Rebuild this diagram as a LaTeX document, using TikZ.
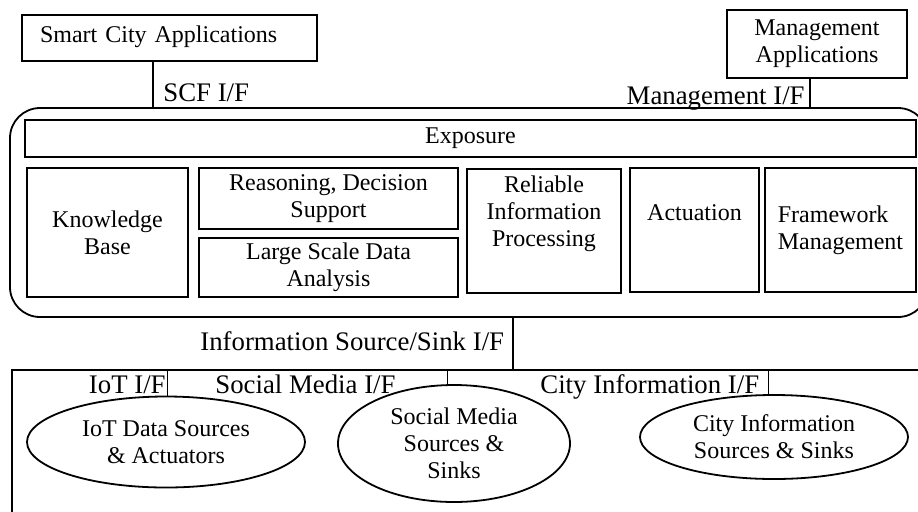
\documentclass[tikz,border=0pt]{standalone}
\usepackage{fontspec}
\setmainfont{Liberation Serif}
\usetikzlibrary{positioning}
\usetikzlibrary{shapes.geometric}

\begin{document}
\begin{tikzpicture}[%
  x=0.5pt, y=-0.5pt,
  boxtext/.style={inner sep=0pt, align=center, font=\fontsize{12}{13.5}\selectfont},
  box/.style={boxtext, draw=black, line width=0.9pt},
  blob/.style={ellipse, draw=black, line width=0.9pt, inner sep=0pt, align=center,
    font=\fontsize{12}{13.5}\selectfont},
  iface/.style={inner sep=0pt, font=\fontsize{13.4}{15}\selectfont},
  link/.style={draw=black, line width=0.6pt},
]

  \useasboundingbox (0,0) rectangle (918,511);
  \clip (0,0) rectangle (918,511);

  % applications
  \node[box, minimum width=147.5pt, minimum height=23pt, inner xsep=9pt,
    text width=129.5pt, align=left, text depth=4pt] (sca) at (169.5,38) {Smart City Applications};
  \node[box, minimum width=90pt, minimum height=34pt] (mapp) at (817,44) {Management\\Applications};

  % framework
  \node[box, rounded corners=15pt, minimum width=459pt, minimum height=104.5pt] (frame) at (469,212.5) {};
  \node[box, minimum width=445.5pt, minimum height=18.5pt] (expo) at (470.5,138.5) {Exposure};
  \node[box, minimum width=80.5pt, minimum height=64.5pt] (kb) at (107.5,232.5) {Knowledge\\Base};
  \node[box, minimum width=129.5pt, minimum height=30.5pt] (reas) at (328.5,198.5) {Reasoning, Decision\\Support};
  \node[box, minimum width=129.5pt, minimum height=29.5pt] (lsda) at (328.5,267.5) {Large Scale Data\\Analysis};
  \node[box, minimum width=77pt, minimum height=62pt] (rip) at (544,231) {};
  \node[boxtext, yshift=8.5pt] (rip-t) at (rip) {Reliable\\Information\\Processing};
  \node[box, minimum width=64.5pt, minimum height=62pt] (act) at (694.5,230) {};
  \node[boxtext, yshift=8.5pt] (act-t) at (act) {Actuation};
  \node[box, minimum width=75.5pt, minimum height=62pt, align=left] (fm) at (840.5,230) {Framework\\Management};

  % sources and sinks
  \node[box, minimum width=464pt, minimum height=85pt] (src) at (476,455) {};
  \node[blob, minimum width=139pt, minimum height=45.5pt] (iot) at (166,442) {IoT Data Sources\\\& Actuators};
  \node[blob, minimum width=116pt, minimum height=58.5pt] (sm) at (454,443.5) {Social Media\\Sources \&\\Sinks};
  \node[blob, minimum width=134pt, minimum height=42pt] (city) at (774,437) {City Information\\Sources \& Sinks};

  % interfaces
  \node[iface, anchor=base west] (scf) at (163,101) {SCF I/F};
  \node[iface, anchor=base east] (mif) at (805,104) {Management I/F};
  \node[iface, anchor=base west] (iss) at (200,350) {Information Source/Sink I/F};
  \node[iface, anchor=base east] (iotif) at (166,393) {IoT I/F};
  \node[iface, anchor=base west] (smif) at (215,393) {Social Media I/F};
  \node[iface, anchor=base west] (cityif) at (540,393) {City Information I/F};

  \coordinate (scf-x) at (153,0);
  \coordinate (mif-x) at (810,0);
  \coordinate (iss-x) at (513,0);

  \draw[link] (sca.south -| scf-x) -- (frame.north -| scf-x);
  \draw[link] (mapp.south -| mif-x) -- (frame.north -| mif-x);
  \draw[link] (frame.south -| iss-x) -- (src.north -| iss-x);
  \draw[link] (iot.88) -- (iot.88 |- src.north);
  \draw[link] (sm.96) -- (sm.96 |- src.north);
  \draw[link] (city.97) -- (city.97 |- src.north);

\end{tikzpicture}
\end{document}
